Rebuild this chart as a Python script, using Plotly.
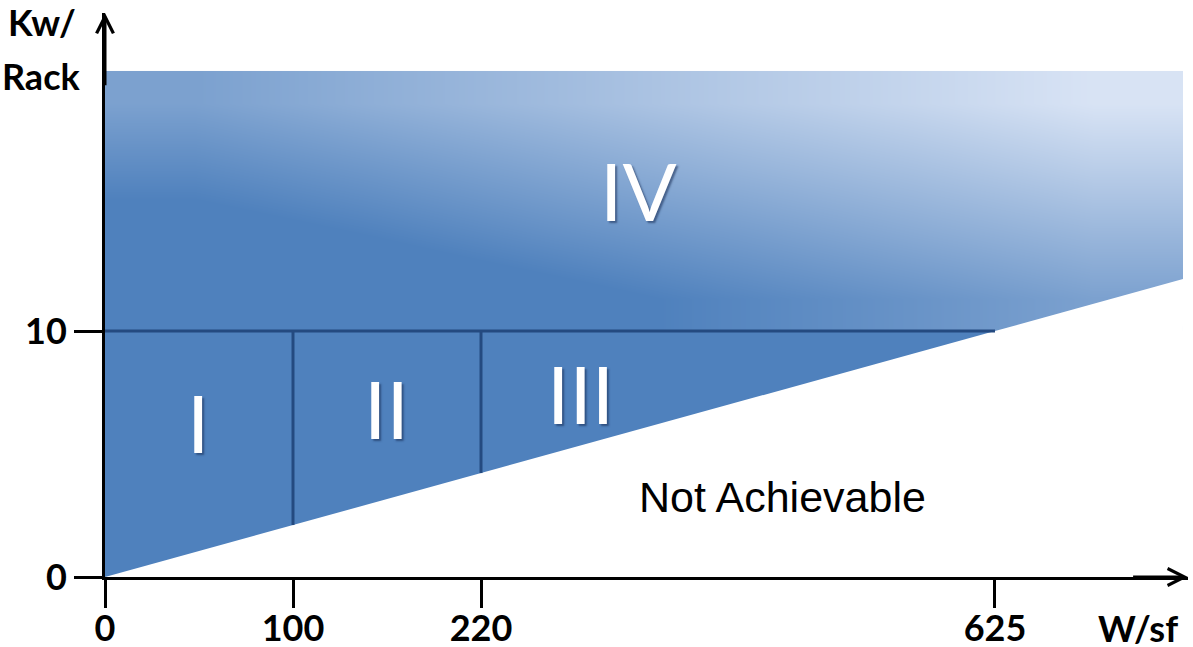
import plotly.graph_objects as go

# ---------------- data ----------------
ws_labels = ["0", "100", "220", "625"]          # W/sf tick labels
ws_axis_pos = [0, 1, 2, 4.734]                   # schematic (non-linear) axis positions of the W/sf ticks
kw_ticks = [0, 10]                               # Kw/Rack ticks
kw_threshold = 10                                # horizontal divider
kw_top = 20.57                                   # top of the shaded band
ws_end_pos = 5.734                               # right end of the shaded band
region_names = ["I", "II", "III", "IV"]
region_x = [0.497, 1.497, 2.527, 2.84]
region_y = [6.3, 6.87, 7.48, 15.73]
na_label = "Not Achievable"
na_x, na_y = 3.606, 3.25

# shading levels of region IV (0 = base blue, 1 = lightest), sampled on a 6 x 4 grid
shade_rows = [
    [-0.30, -0.18, -0.07, 0.05, 0.16, 0.28],
    [-0.10, 0.01, 0.13, 0.24, 0.36, 0.47],
    [0.09, 0.20, 0.32, 0.44, 0.55, 0.67],
    [0.28, 0.40, 0.51, 0.63, 0.74, 0.86],
]

# ---------------- derived geometry ----------------
slope = kw_threshold / ws_axis_pos[3]            # achievable limit passes through (625, 10)
def limit(p):
    return slope * p

x_max = 1083 / 188
y_max = 564 / 24.6

ncol = len(shade_rows[0])
nrow = len(shade_rows)
x_edges = [ws_end_pos * i / ncol for i in range(ncol + 1)]
y_edges = [kw_threshold + (kw_top - kw_threshold) * j / nrow for j in range(nrow + 1)]

BLUE = "#4F81BD"
LIGHT = "#E3EBF9"
DARK = "#244A80"

fig = go.Figure()

# Region IV gradient
fig.add_trace(go.Heatmap(
    x=x_edges, y=y_edges, z=shade_rows, zsmooth="best",
    colorscale=[[0, BLUE], [1, LIGHT]], zmin=0, zmax=0.93,
    showscale=False, hoverinfo="skip"))

# mask: not achievable part above 10
fig.add_trace(go.Scatter(
    x=[ws_axis_pos[3], ws_end_pos, ws_end_pos, ws_axis_pos[3]],
    y=[kw_threshold, limit(ws_end_pos), kw_threshold - 0.05, kw_threshold - 0.05],
    fill="toself", fillcolor="white", mode="none", hoverinfo="skip", showlegend=False))

# Regions I-III solid
fig.add_trace(go.Scatter(
    x=[0, 0, ws_axis_pos[3], 0],
    y=[0, kw_threshold, kw_threshold, 0],
    fill="toself", fillcolor=BLUE, mode="none", hoverinfo="skip", showlegend=False))

# divider lines
fig.add_trace(go.Scatter(
    x=[0, ws_axis_pos[3]], y=[kw_threshold, kw_threshold],
    mode="lines", line=dict(color=DARK, width=3), hoverinfo="skip", showlegend=False))
for p in ws_axis_pos[1:3]:
    fig.add_trace(go.Scatter(
        x=[p, p], y=[limit(p), kw_threshold],
        mode="lines", line=dict(color=DARK, width=3), hoverinfo="skip", showlegend=False))

label_font = dict(family="Lato", size=80, color="white",
                  shadow="2px 2px 2px rgba(20,40,80,0.55)")
for name, x, y in zip(region_names, region_x, region_y):
    fig.add_annotation(x=x, y=y, text=name, showarrow=False, font=label_font,
                       xanchor="center", yanchor="middle")

fig.add_annotation(x=na_x, y=na_y, text=na_label, showarrow=False,
                   font=dict(family="Liberation Sans", size=43, color="black"))

# axis arrows
fig.add_annotation(x=x_max, y=0, ax=x_max - 0.3, ay=0, axref="x", ayref="y",
                   text="", showarrow=True, arrowhead=5, arrowsize=1.1,
                   arrowwidth=3, arrowcolor="black", standoff=0)
fig.add_annotation(x=0, y=y_max, ax=0, ay=y_max - 3, axref="x", ayref="y",
                   text="", showarrow=True, arrowhead=5, arrowsize=1.1,
                   arrowwidth=3, arrowcolor="black", standoff=0)

bold = dict(family="Lato", size=36, color="black", weight="bold")
L, T, W, H = 105, 13, 1083, 564
def px(xp):
    return (xp - L) / W
def py(yp):
    return (T + H - yp) / H

fig.add_annotation(xref="paper", yref="paper", x=px(42), y=py(22), text="Kw/",
                   showarrow=False, font=bold, xanchor="center", yanchor="middle")
fig.add_annotation(xref="paper", yref="paper", x=px(41), y=py(76), text="Rack",
                   showarrow=False, font=bold, xanchor="center", yanchor="middle")
fig.add_annotation(xref="paper", yref="paper", x=px(1138), y=py(628), text="W/sf",
                   showarrow=False, font=bold, xanchor="center", yanchor="middle")

fig.update_layout(
    template="none",
    width=1193, height=647,
    margin=dict(l=L, r=1193 - L - W, t=T, b=647 - T - H, autoexpand=False),
    plot_bgcolor="white", paper_bgcolor="white",
    showlegend=False,
    xaxis=dict(range=[0, x_max], showgrid=False, zeroline=False, automargin=False,
               showline=True, linewidth=3, linecolor="black",
               ticks="outside", ticklen=28, tickwidth=3, tickcolor="black",
               tickvals=ws_axis_pos, ticktext=ws_labels, tickfont=bold,
               ticklabelstandoff=-10, fixedrange=True),
    yaxis=dict(range=[0, y_max], showgrid=False, zeroline=False, automargin=False,
               showline=True, linewidth=3, linecolor="black",
               ticks="outside", ticklen=28, tickwidth=3, tickcolor="black",
               tickvals=kw_ticks, ticktext=[str(v) for v in kw_ticks], tickfont=bold,
               fixedrange=True),
)

fig.write_html("out.html", config={"displayModeBar": False},
               post_script="document.body.style.margin='0';document.body.style.overflow='hidden';")
